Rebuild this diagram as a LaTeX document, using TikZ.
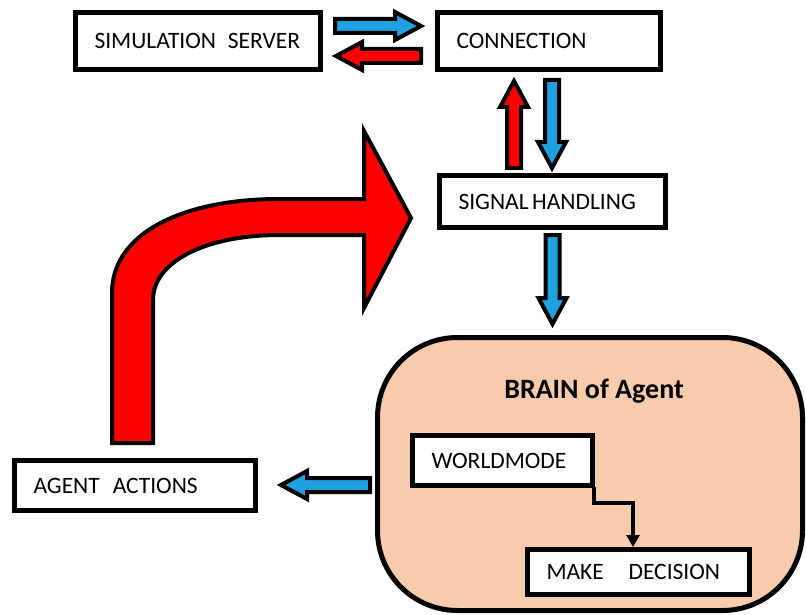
\documentclass[tikz,border=0pt]{standalone}
\usepackage{fontspec}
\setmainfont{Carlito}
\usetikzlibrary{calc,arrows.meta}
\definecolor{arrblue}{RGB}{30,160,225}
\definecolor{arrred}{RGB}{255,0,0}
\definecolor{peach}{RGB}{248,203,173}

% block arrow: #1 start coordinate, #2 direction angle, #3 length, #4 fill colour
\newcommand\blockarr[4]{%
  \begin{scope}[shift={(#1)}, rotate=#2]
    \draw[blockline, fill=#4] (0,-7) -- ({#3-26},-7) -- ({#3-26},-14) -- (#3,0)
      -- ({#3-26},14) -- ({#3-26},7) -- (0,7) -- cycle;
  \end{scope}}

\begin{document}
\begin{tikzpicture}[x=1pt,y=-1pt,
  box/.style={draw, line width=5pt, fill=white, align=left, inner xsep=19pt,
    inner ysep=0pt, text height=15pt, text depth=0pt,
    font=\fontsize{23.5}{28}\selectfont},
  blockline/.style={draw=black, line width=4pt, line join=miter},
  thinarrow/.style={draw, line width=3.5pt, -{Triangle[width=13pt,length=12pt]}}]

\useasboundingbox (0,0) rectangle (806,615);

% brain
\node[draw, line width=5pt, fill=peach, rounded corners=80pt,
  minimum width=425pt, minimum height=273pt, inner sep=0pt] (brain) at (590,474) {};
\node[font=\bfseries\fontsize{28}{33}\selectfont] (brainlbl) at ($(brain.north)+(4,56)$) {BRAIN of Agent};

% boxes
\node[box, minimum width=245pt, minimum height=57pt, text width=207pt] (sim) at (198,41) {SIMULATION\hspace{0.5em}SERVER};
\node[box, minimum width=223pt, minimum height=57pt, text width=185pt] (conn) at (549,41) {CONNECTION};
\node[box, minimum width=226pt, minimum height=52pt, text width=188pt] (sig) at (552.5,201.5) {SIGNAL\hspace{0.15em}HANDLING};
\node[box, minimum width=180pt, minimum height=50pt, text width=142pt] (world) at (502.5,460.5) {WORLDMODE};
\node[box, minimum width=222pt, minimum height=45pt, text width=184pt] (make) at (638.5,572) {MAKE\hspace{1.05em}DECISION};
\node[box, minimum width=241pt, minimum height=50pt, text width=203pt] (act) at (135,485.5) {AGENT\hspace{0.55em}ACTIONS};

% block arrows between the boxes
\coordinate (b1) at ($(sim.east)+(12,-15)$);
\coordinate (r1) at ($(conn.west)+(-14,15)$);
\coordinate (r2) at ($(sig.north)+(-38.5,-5)$);
\coordinate (b2) at ($(conn.south)+(3,8)$);
\coordinate (b3) at ($(sig.south)+(0,5)$);
\coordinate (b4) at ($(brain.west)+(-5,11)$);
\blockarr{b1}{0}{86}{arrblue}
\blockarr{r1}{180}{85}{arrred}
\blockarr{r2}{90}{87}{arrred}
\blockarr{b2}{-90}{88}{arrblue}
\blockarr{b3}{-90}{89}{arrblue}
\blockarr{b4}{180}{89}{arrblue}

% big curved red arrow from AGENT ACTIONS to SIGNAL HANDLING
\draw[blockline, fill=arrred] (112,443) -- (112,293)
  .. controls (112,232) and (185,199) .. (279,199) -- (364,199) -- (364,131)
  -- (411,218) -- (364,308) -- (364,235) -- (280,235)
  .. controls (205,235) and (153,262) .. (153,300) -- (153,443) -- cycle;

% worldmodel -> decision
\draw[thinarrow] ($(world.south east)+(-1,-1)$) |- ($(make.north)+(-5.5,-44)$) -- ($(make.north)+(-5.5,0)$);
\end{tikzpicture}
\end{document}
